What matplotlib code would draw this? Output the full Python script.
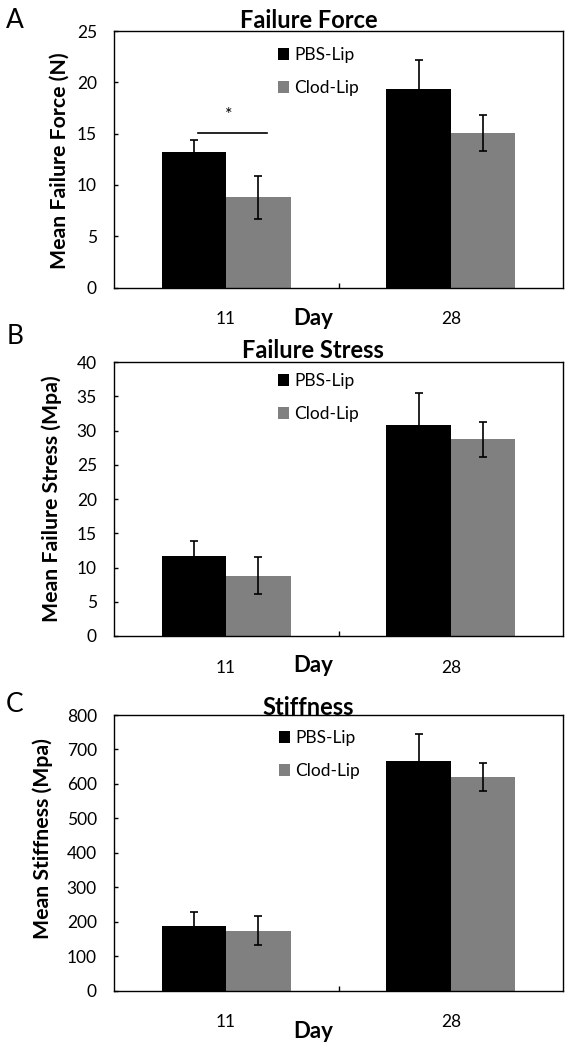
import numpy as np
import matplotlib
matplotlib.use("Agg")
import matplotlib.pyplot as plt

plt.rcParams['font.family'] = ['Lato', 'DejaVu Sans']

# data
days = ['11', '28']
groups = ['PBS-Lip', 'Clod-Lip']
colors = ['#000000', '#808080']

force_mean = [[13.2, 19.3], [8.8, 15.1]]
force_err = [[1.15, 2.9], [2.1, 1.75]]

stress_mean = [[11.7, 30.75], [8.8, 28.7]]
stress_err = [[2.1, 4.75], [2.7, 2.6]]

stiff_mean = [[188, 665], [173, 619]]
stiff_err = [[39, 81], [42, 41]]

titles = ['Failure Force', 'Failure Stress', 'Stiffness']
ylabels = ['Mean Failure Force (N)', 'Mean Failure Stress (Mpa)', 'Mean Stiffness (Mpa)']
ylims = [25, 40, 800]
ysteps = [5, 5, 100]
letters = ['A', 'B', 'C']

W, H = 576, 1050
def fx(px):
    return px / W
def fy(py):
    return 1 - py / H

fig = plt.figure(figsize=(5.76, 10.5), dpi=100)

# axes frame in pixels: (top, bottom)
frames = [(31, 287.5), (362, 636), (715, 990.5)]
left_px, right_px = 113.6, 563.4
title_pos = [(309, 28.3), (312.7, 358.3), (308, 715)]
day_pos = [(313, 325), (313, 671.5), (313, 1038)]
letter_pos = [(15, 21), (15, 336), (15, 704)]
ylab_pos = [(59.6, 161), (52, 499), (43, 839)]
legend_pos = [(277.5, 47), (277.5, 373), (279, 730)]

means = [force_mean, stress_mean, stiff_mean]
errs = [force_err, stress_err, stiff_err]

x = np.arange(len(days))
bw = 0.287

for k in range(3):
    top, bot = frames[k]
    ax = fig.add_axes([fx(left_px), fy(bot), fx(right_px) - fx(left_px), fy(top) - fy(bot)])
    bars = []
    for g in range(2):
        b = ax.bar(x + (g - 0.5) * bw, means[k][g], bw, yerr=errs[k][g], color=colors[g],
                   capsize=3.2, error_kw=dict(elinewidth=1.2, capthick=1.2, ecolor='black'),
                   label=groups[g])
        bars.append(b)
    ax.set_xlim(-0.5, 1.5)
    ax.set_ylim(0, ylims[k])
    ax.set_yticks(np.arange(0, ylims[k] + 1, ysteps[k]))
    ax.set_xticks(x)
    ax.set_xticklabels(days)
    ax.set_xticks([0.5], minor=True)
    ax.tick_params(axis='x', which='major', length=0, pad=17, labelsize=12.5)
    ax.tick_params(axis='x', which='minor', direction='in', length=3.5, width=1)
    ax.tick_params(axis='y', direction='in', length=3, width=1, pad=12, labelsize=12.5)
    for s in ax.spines.values():
        s.set_linewidth(1.0)

    ax.set_ylabel(ylabels[k], fontsize=15.3, fontweight='bold', va='center')
    ax.yaxis.set_label_coords((ylab_pos[k][0] - left_px) / (right_px - left_px),
                              (bot - ylab_pos[k][1]) / (bot - top))

    fig.text(fx(title_pos[k][0]), fy(title_pos[k][1]), titles[k], fontsize=17,
             fontweight='bold', ha='center', va='baseline')
    fig.text(fx(day_pos[k][0]), fy(day_pos[k][1]), 'Day', fontsize=16,
             fontweight='bold', ha='center', va='baseline')
    fig.text(fx(letter_pos[k][0]), fy(letter_pos[k][1]), letters[k], fontsize=19,
             ha='center', va='center')

    ax.legend(handles=bars, loc='upper left', frameon=False, fontsize=12.5,
              bbox_to_anchor=(fx(legend_pos[k][0]), fy(legend_pos[k][1])),
              bbox_transform=fig.transFigure, borderpad=0, borderaxespad=0,
              handlelength=0.65, handleheight=0.65, handletextpad=0.3, labelspacing=1.0)

    if k == 0:
        # significance bar between day-11 groups
        ax.plot([-0.125, 0.182], [15.1, 15.1], color='black', lw=1.2)
        ax.text(0.01, 16.8, '*', ha='center', va='center', fontsize=13)

fig.savefig('out.png', dpi=100)
